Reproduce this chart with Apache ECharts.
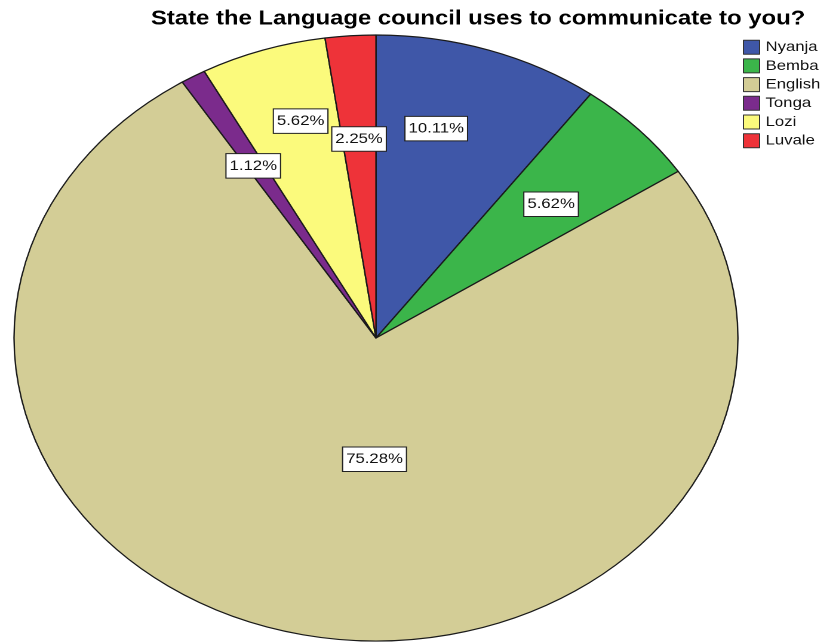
<!DOCTYPE html>
<html>
<head>
<meta charset="utf-8">
<script src="https://cdn.jsdelivr.net/npm/echarts@6/dist/echarts.min.js"></script>
<style>
  html, body { margin: 0; padding: 0; background: #fff; overflow: hidden; }
  #wrap { position: relative; width: 836px; height: 642px; overflow: hidden; }
  /* the pie is drawn round and widened into an ellipse */
  #chart { position: absolute; left: 0; top: 0; width: 700px; height: 642px;
           transform-origin: 0 0; transform: scaleX(1.1943); }
</style>
</head>
<body>
<div id="wrap"><div id="chart"></div></div>
<script>
// Language used by the council to communicate (percent of respondents)
const languages = ['Nyanja', 'Bemba', 'English', 'Tonga', 'Lozi', 'Luvale'];
const percents  = [10.11, 5.62, 75.28, 1.12, 5.62, 2.25];
const colors    = ['#3f57a8', '#3bb54a', '#d3cd96', '#7b2b8c', '#fbfa7c', '#ee3339'];
const titleText = 'State the Language council uses to communicate to you?';

const STRETCH = 1.1943;
const BIG = 'English';
const center = [314.8, 338];
const R = 303;

// small hand adjustments of the value boxes, in screen pixels
const labelNudge = {
  Nyanja: [-19, -7.5],
  Bemba:  [-9, 12.5],
  English: [1, -4],
  Tonga:  [5.5, 11.3],
  Lozi:   [4, -15],
  Luvale: [1, 13]
};

const slices = languages.map((name, i) => ({ name: name, value: percents[i] }));

const labelBox = {
  show: true,
  position: 'inside',
  formatter: p => p.value.toFixed(2) + '%',
  fontFamily: "'Liberation Sans', Arial, sans-serif",
  fontSize: 14,
  lineHeight: 15.5,
  color: '#111',
  backgroundColor: '#fff',
  borderColor: '#222',
  borderWidth: 1,
  padding: [4, 2.5]
};

function nudged(p, base) {
  const n = labelNudge[languages[p.dataIndex]] || [0, 0];
  return {
    x: p.labelRect.x + p.labelRect.width / 2 + (base[0] + n[0]) / STRETCH,
    y: p.labelRect.y + p.labelRect.height / 2 + base[1] + n[1],
    hideOverlap: false
  };
}

const hiddenRing = {
  type: 'pie',
  center: center,
  silent: true,
  startAngle: 90,
  clockwise: true,
  itemStyle: { color: 'rgba(0,0,0,0)', borderWidth: 0 },
  emphasis: { disabled: true },
  labelLine: { show: false }
};

const chart = echarts.init(document.getElementById('chart'), null, { devicePixelRatio: 2 });
chart.setOption({
  animation: false,
  color: colors,
  title: {
    text: titleText,
    left: 126.4,
    top: 9,
    padding: 0,
    textStyle: { fontFamily: "'Liberation Sans', Arial, sans-serif", fontSize: 20, fontWeight: 'bold', color: '#000' }
  },
  legend: {
    orient: 'vertical',
    left: 622,
    top: 39.7,
    padding: 0,
    itemWidth: 13.5,
    itemHeight: 14,
    itemGap: 3.7,
    icon: 'rect',
    selectedMode: false,
    data: languages,
    itemStyle: { borderColor: '#333', borderWidth: 1 },
    textStyle: { fontFamily: "'Liberation Sans', Arial, sans-serif", fontSize: 14, lineHeight: 14, color: '#111' }
  },
  series: [
    {
      // the slices
      type: 'pie',
      center: center,
      radius: [0, R],
      startAngle: 90,
      clockwise: true,
      data: slices,
      label: { show: false },
      labelLine: { show: false },
      emphasis: { disabled: true },
      itemStyle: { borderColor: '#1a1a1a', borderWidth: 1.2 }
    },
    Object.assign({}, hiddenRing, {
      // value boxes for the smaller slices
      radius: [116, R],
      data: slices.map(d => d.name === BIG ? Object.assign({}, d, { label: { show: false } }) : d),
      label: labelBox,
      labelLayout: p => nudged(p, [0, 0])
    }),
    Object.assign({}, hiddenRing, {
      // value box for the largest slice, nearer the middle
      radius: [0, 242],
      data: slices.map(d => d.name === BIG ? d : Object.assign({}, d, { label: { show: false } })),
      label: labelBox,
      labelLayout: p => nudged(p, [24 * STRETCH, 4])
    })
  ]
});
</script>
</body>
</html>
